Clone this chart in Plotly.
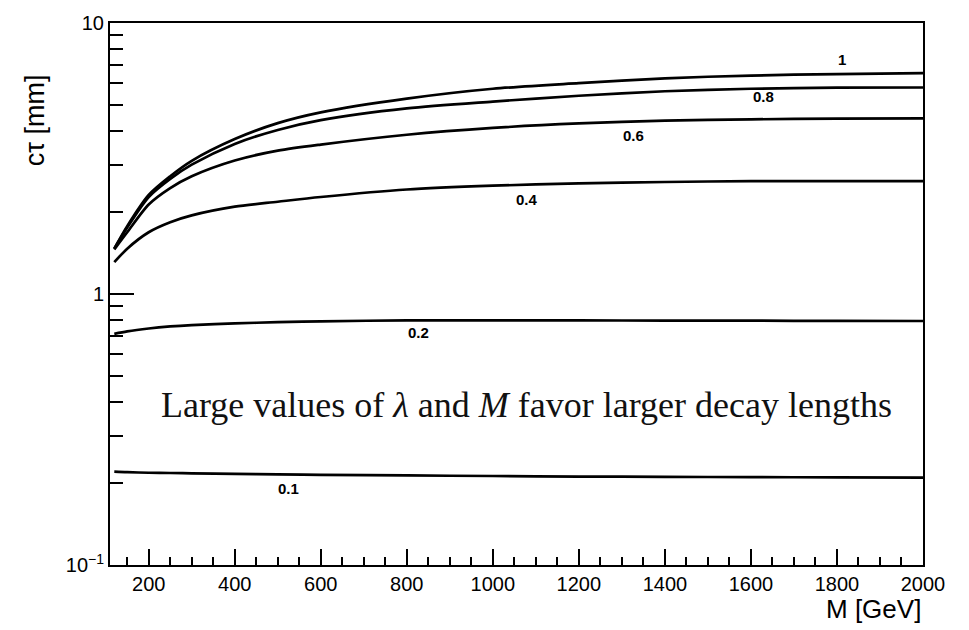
import math
import plotly.graph_objects as go

# Mass grid [GeV]
mass = [120, 150, 200, 250, 300, 400, 500, 600, 800, 1000, 1200, 1400, 1600, 1800, 2000]

# Decay length c*tau [mm] for each coupling lambda
ctau_l10 = [1.47, 1.78, 2.32, 2.72, 3.10, 3.73, 4.27, 4.68, 5.26, 5.72, 6.00, 6.25, 6.40, 6.48, 6.53]
ctau_l08 = [1.47, 1.76, 2.28, 2.66, 3.00, 3.58, 4.03, 4.38, 4.84, 5.13, 5.39, 5.60, 5.72, 5.77, 5.78]
ctau_l06 = [1.46, 1.69, 2.14, 2.46, 2.72, 3.11, 3.38, 3.56, 3.87, 4.10, 4.26, 4.36, 4.41, 4.44, 4.45]
ctau_l04 = [1.31, 1.47, 1.69, 1.84, 1.95, 2.10, 2.19, 2.28, 2.43, 2.51, 2.56, 2.59, 2.61, 2.61, 2.61]
ctau_l02 = [0.713, 0.728, 0.746, 0.759, 0.768, 0.779, 0.787, 0.793, 0.799, 0.799, 0.799, 0.798, 0.797, 0.796, 0.795]
ctau_l01 = [0.221, 0.220, 0.219, 0.2185, 0.218, 0.217, 0.216, 0.215, 0.214, 0.213, 0.212, 0.2115, 0.211, 0.2105, 0.210]

curve_names = ["1", "0.8", "0.6", "0.4", "0.2", "0.1"]
curves = [ctau_l10, ctau_l08, ctau_l06, ctau_l04, ctau_l02, ctau_l01]

# Label positions along each curve (M [GeV], c*tau [mm])
label_m = [1812, 1630, 1328, 1079, 828, 526]
label_ct = [7.35, 5.35, 3.86, 2.24, 0.722, 0.192]

x_major = [200, 400, 600, 800, 1000, 1200, 1400, 1600, 1800, 2000]
x_minor = list(range(150, 2000, 50))
y_major = [0.1, 1, 10]
y_major_text = ["10<sup>\u22121</sup>", "1", "10"]
y_minor = [v * d for d in (0.1, 1) for v in range(2, 10)]

fig = go.Figure()
for name, ct in zip(curve_names, curves):
    fig.add_trace(go.Scatter(
        x=mass, y=ct, mode="lines", name=name,
        line=dict(color="black", width=2.7, shape="spline", smoothing=0.8),
        showlegend=False, hoverinfo="skip",
    ))

# annotations on a log axis take log10 of the value
for name, xm, yc in zip(curve_names, label_m, label_ct):
    fig.add_annotation(
        x=xm, y=math.log10(yc), xref="x", yref="y", text=f"<b>{name}</b>",
        showarrow=False, font=dict(family="Liberation Sans", size=15, color="black"),
    )

fig.add_annotation(
    x=1078, y=math.log10(0.39), xref="x", yref="y",
    text="Large values of <i>\u03bb</i> and <i>M</i> favor larger decay lengths",
    showarrow=False, font=dict(family="Liberation Serif", size=36, color="#111"),
)

fig.add_annotation(
    x=1, y=-0.082, xref="paper", yref="paper", xanchor="right", yanchor="middle",
    text="M [GeV]", showarrow=False,
    font=dict(family="Liberation Sans", size=26, color="black"),
)
fig.add_annotation(
    x=-0.093, y=0.91, xref="paper", yref="paper", xanchor="center",
    text="c\u03c4 [mm]", textangle=-90, showarrow=False,
    font=dict(family="Liberation Sans", size=27, color="black"),
)

fig.update_layout(
    width=969, height=630,
    margin=dict(l=110, r=46, t=13, b=65),
    plot_bgcolor="white", paper_bgcolor="white",
    font=dict(family="Liberation Sans", color="black", size=20),
    xaxis=dict(
        range=[110, 2000], showgrid=False, zeroline=False,
        showline=True, linecolor="black", linewidth=2, mirror=True,
        tickmode="array", tickvals=x_major, ticks="inside", ticklen=16,
        tickwidth=2, tickcolor="black", tickfont=dict(size=20),
        minor=dict(tickmode="array", tickvals=x_minor, ticks="inside",
                   ticklen=8, tickwidth=2, tickcolor="black", showgrid=False),
    ),
    yaxis=dict(
        type="log", range=[-1, 1], showgrid=False, zeroline=False,
        showline=True, linecolor="black", linewidth=2, mirror=True,
        tickmode="array", tickvals=y_major, ticktext=y_major_text,
        ticks="inside", ticklen=24, tickwidth=2, tickcolor="black",
        tickfont=dict(size=20),
        minor=dict(tickmode="array", tickvals=y_minor, ticks="inside",
                   ticklen=13, tickwidth=2, tickcolor="black", showgrid=False),
    ),
)

fig.write_html("out.html")
